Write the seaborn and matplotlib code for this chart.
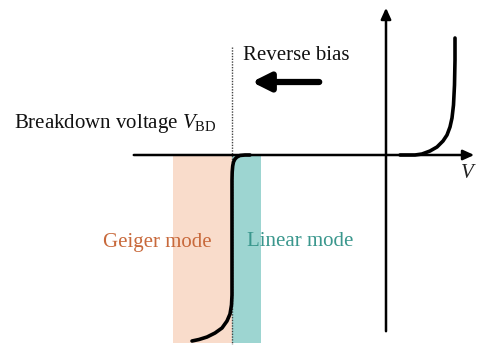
import matplotlib
matplotlib.use("Agg")
import matplotlib.pyplot as plt
import seaborn as sns
import pandas as pd
import numpy as np

# Schematic I-V curve of an avalanche photodiode (arbitrary units, origin at the axes crossing)
reverse_v = [-136, -141, -146, -149, -151, -152.5, -153.3, -153.8, -154, -154,
             -154.5, -156, -159, -164, -171, -179, -187, -194]
reverse_i = [0, 0, -0.5, -2, -4, -7, -11, -17, -25, -140,
             -150, -159, -166, -173, -178, -182, -184.5, -186]
forward_v = [14, 29, 36, 44, 51, 57, 61, 64, 66, 67.5, 68.5, 69, 69]
forward_i = [0, 0, 1, 4, 8, 14, 20, 28, 37, 50, 70, 95, 117]

breakdown_v = -154
geiger_span = [-213, -154]
linear_span = [-154, -125]

sns.set_theme(style="white")
plt.rcParams['font.family'] = ['Liberation Serif', 'DejaVu Serif']
plt.rcParams['mathtext.fontset'] = 'custom'
plt.rcParams['mathtext.rm'] = 'Liberation Serif'
plt.rcParams['mathtext.it'] = 'Liberation Serif:italic'

fig = plt.figure(figsize=(4.78, 3.45), dpi=100)
ax = fig.add_axes([0, 0, 1, 1])

# mode regions
ax.fill_between(geiger_span, -188, 0, color='#F9DCCB', lw=0, zorder=1)
ax.fill_between(linear_span, -188, 0, color='#9DD5D1', lw=0, zorder=1)

# breakdown voltage marker
ax.plot([breakdown_v, breakdown_v], [108, -190], ls=(0, (1, 1)), color='#444444', lw=1, zorder=2)

# axes with arrows
ax.annotate('', xy=(91, 0), xytext=(-255, 0),
            arrowprops=dict(arrowstyle='-|>,head_length=0.55,head_width=0.25', lw=1.8, color='black'),
            zorder=3)
ax.annotate('', xy=(0, 150), xytext=(0, -179),
            arrowprops=dict(arrowstyle='-|>,head_length=0.55,head_width=0.25', lw=1.8, color='black'),
            zorder=3)

# curves
rev = pd.DataFrame({'V': reverse_v, 'I': reverse_i})
fwd = pd.DataFrame({'V': forward_v, 'I': forward_i})
for df in (rev, fwd):
    sns.lineplot(data=df, x='V', y='I', sort=False, estimator=None, color='black',
                 lw=2.6, ax=ax, zorder=4, solid_capstyle='round', solid_joinstyle='round')

ax.set_xlim(-386, 92)
ax.set_ylim(-190, 155)
ax.axis('off')

# reverse bias arrow
ax.annotate('', xy=(-137, 73), xytext=(-64, 73),
            arrowprops=dict(arrowstyle='-|>,head_length=0.9,head_width=0.45', lw=4.5, color='black'))

ax.text(-143, 100, 'Reverse bias', fontsize=15, ha='left', va='center', color='#111111')
ax.text(-372, 27, r'Breakdown voltage $V_{\rm BD}$', fontsize=15, ha='left', va='baseline', color='#111111')
ax.text(81, -18, 'V', fontsize=15, style='italic', ha='center', va='center', color='#222222')
ax.text(-283, -87, 'Geiger mode', fontsize=15, ha='left', va='center', color='#C8693B')
ax.text(-139, -87, 'Linear mode', fontsize=15, ha='left', va='center', color='#3A978D')

fig.savefig('out.png', dpi=100)
